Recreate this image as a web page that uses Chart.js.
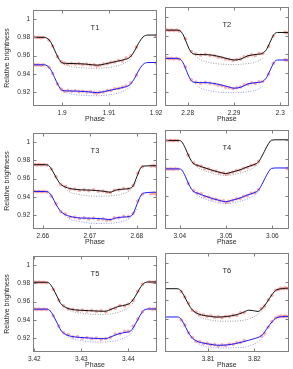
<!DOCTYPE html>
<html>
<head>
<meta charset="utf-8">
<script src="https://cdn.jsdelivr.net/npm/chart.js@4.4.1/dist/chart.umd.min.js"></script>
<style>
body { margin: 0; background: #fff; width: 293px; height: 369px; position: relative; overflow: hidden; }
canvas { position: absolute; }
</style>
</head>
<body>
<canvas id="c1" style="left:0;top:3px" width="170" height="120"></canvas>
<canvas id="c2" style="left:160px;top:3px" width="133" height="120"></canvas>
<canvas id="c3" style="left:0;top:126px" width="170" height="120"></canvas>
<canvas id="c4" style="left:160px;top:126px" width="133" height="120"></canvas>
<canvas id="c5" style="left:0;top:249px" width="170" height="120"></canvas>
<canvas id="c6" style="left:160px;top:249px" width="133" height="120"></canvas>
<script>
// axes
var yTicks = [0.92, 0.94, 0.96, 0.98, 1];
var yRange = [0.905, 1.010];
var panelNames = ['T1', 'T2', 'T3', 'T4', 'T5', 'T6'];
var xRanges = [[1.8938, 1.9202], [2.2751, 2.3018], [2.6579, 2.6843], [3.0368, 3.0635], [3.4197, 3.4461], [3.8007, 3.8274]];
var xTicks = [[1.9, 1.91, 1.92], [2.28, 2.29, 2.3], [2.66, 2.67, 2.68], [3.04, 3.05, 3.06], [3.42, 3.43, 3.44], [3.81, 3.82]];

// T1
var t1Phase = [1.8938,1.8962,1.8968,1.8976,1.8984,1.8992,1.8999,1.9010,1.9030,1.9050,1.9065,1.9075,1.9090,1.9105,1.9118,1.9135,1.9145,1.9155,1.9165,1.9175,1.9185,1.9202];
var t1Top = [0.980,0.980,0.979,0.9745,0.966,0.9575,0.9525,0.9515,0.9513,0.9508,0.950,0.9496,0.9508,0.9525,0.954,0.956,0.9585,0.966,0.9755,0.9815,0.9825,0.9825];
var t1Bot = [0.950,0.950,0.949,0.9445,0.936,0.9275,0.9225,0.9215,0.9213,0.9208,0.920,0.9196,0.9208,0.9225,0.924,0.926,0.9285,0.936,0.9455,0.9515,0.9525,0.9525];
var t1DotPhase = [1.8999,1.9020,1.9050,1.9075,1.9100,1.9125,1.9145];
var t1DotTop = [0.9515,0.948,0.9465,0.9462,0.9472,0.950,0.9555];
var t1DotBot = [0.9215,0.918,0.9165,0.9162,0.9172,0.920,0.9255];
var t1ObsPhase = [1.8940,1.8945,1.8950,1.8955,1.8960,1.8972,1.8980,1.8990,1.8998,1.9005,1.9012,1.9020,1.9028,1.9036,1.9044,1.9052,1.9060,1.9068,1.9074,1.9080,1.9088,1.9096,1.9104,1.9112,1.9120,1.9128,1.9136,1.9146,1.9158,1.9200];
var t1ObsTop = [0.9805,0.9798,0.9802,0.9795,0.9801,0.9770,0.9705,0.9590,0.9535,0.9520,0.9510,0.9517,0.9508,0.9514,0.9503,0.9510,0.9497,0.9502,0.9488,0.9495,0.9510,0.9511,0.9528,0.9530,0.9548,0.9543,0.9575,0.9598,0.9695,0.9818];
var t1ObsBot = [0.9503,0.9497,0.9501,0.9496,0.9500,0.9472,0.9405,0.9290,0.9235,0.9212,0.9218,0.9210,0.9216,0.9207,0.9212,0.9203,0.9209,0.9195,0.9188,0.9202,0.9203,0.9218,0.9220,0.9238,0.9242,0.9255,0.9268,0.9305,0.9385,0.9520];

// T2
var t2Phase = [2.2751,2.2775,2.2783,2.2790,2.2797,2.2804,2.2812,2.2825,2.2845,2.2865,2.2885,2.2900,2.2915,2.2930,2.2950,2.2962,2.2970,2.2978,2.2986,2.2994,2.3018];
var t2Top = [0.9858,0.9858,0.9852,0.981,0.973,0.965,0.9605,0.9598,0.9596,0.958,0.9555,0.954,0.955,0.9585,0.960,0.9612,0.965,0.973,0.981,0.9833,0.9833];
var t2Bot = [0.9557,0.9557,0.9551,0.951,0.943,0.935,0.9305,0.930,0.9298,0.9282,0.9258,0.924,0.925,0.9285,0.930,0.9312,0.935,0.943,0.951,0.954,0.954];
var t2DotPhase = [2.2812,2.2825,2.2845,2.2870,2.2895,2.2920,2.2945,2.2962];
var t2DotTop = [0.9605,0.955,0.9515,0.9497,0.9492,0.9497,0.9515,0.9555];
var t2DotBot = [0.9305,0.925,0.9215,0.9197,0.9192,0.9197,0.9215,0.9255];
var t2ObsPhase = [2.2755,2.2760,2.2765,2.2770,2.2776,2.2782,2.2795,2.2808,2.2818,2.2828,2.2838,2.2848,2.2858,2.2866,2.2874,2.2882,2.2890,2.2898,2.2906,2.2914,2.2922,2.2930,2.2938,2.2946,2.2954,2.2962,2.2975,2.2985,2.3010,2.3015];
var t2ObsTop = [0.9862,0.9855,0.9860,0.9853,0.9859,0.9850,0.9765,0.9630,0.9605,0.9592,0.9600,0.9590,0.9584,0.9570,0.9566,0.9550,0.9548,0.9535,0.9546,0.9550,0.9575,0.9580,0.9596,0.9588,0.9608,0.9610,0.9685,0.9795,0.9836,0.9828];
var t2ObsBot = [0.9560,0.9553,0.9558,0.9551,0.9556,0.9549,0.9465,0.9330,0.9305,0.9293,0.9302,0.9291,0.9284,0.9272,0.9266,0.9251,0.9247,0.9236,0.9244,0.9252,0.9276,0.9281,0.9297,0.9290,0.9308,0.9312,0.9390,0.9505,0.9543,0.9536];

// T3
var t3Phase = [2.6579,2.6605,2.6612,2.6620,2.6628,2.6636,2.6645,2.6660,2.6680,2.6700,2.6715,2.6730,2.6743,2.6755,2.6770,2.6785,2.6792,2.6800,2.6808,2.6815,2.6843];
var t3Top = [0.9753,0.9753,0.9745,0.969,0.9615,0.955,0.9515,0.949,0.9478,0.9475,0.947,0.9462,0.9452,0.9475,0.9485,0.9495,0.952,0.962,0.9715,0.9738,0.9742];
var t3Bot = [0.946,0.946,0.9452,0.940,0.932,0.9255,0.9215,0.9185,0.917,0.9168,0.9165,0.916,0.9152,0.917,0.918,0.9188,0.9215,0.9315,0.941,0.9443,0.9452];
var t3DotPhase = [2.6640,2.6655,2.6680,2.6710,2.6740,2.6770,2.6790,2.6800];
var t3DotTop = [0.953,0.946,0.9425,0.9408,0.9412,0.9435,0.9495,0.958];
var t3DotBot = [0.9235,0.9165,0.913,0.911,0.9112,0.9135,0.919,0.927];
var t3ObsPhase = [2.6582,2.6587,2.6592,2.6597,2.6602,2.6608,2.6618,2.6628,2.6638,2.6648,2.6658,2.6668,2.6678,2.6688,2.6698,2.6708,2.6718,2.6728,2.6736,2.6744,2.6752,2.6762,2.6772,2.6782,2.6792,2.6802,2.6812,2.6830,2.6836,2.6841];
var t3ObsTop = [0.9756,0.9750,0.9755,0.9749,0.9754,0.9748,0.9705,0.9620,0.9535,0.9515,0.9487,0.9488,0.9472,0.9480,0.9468,0.9478,0.9463,0.9466,0.9452,0.9448,0.9474,0.9478,0.9493,0.9488,0.9525,0.9660,0.9730,0.9738,0.9745,0.9733];
var t3ObsBot = [0.9463,0.9457,0.9462,0.9456,0.9461,0.9455,0.9410,0.9325,0.9240,0.9215,0.9182,0.9180,0.9164,0.9172,0.9160,0.9170,0.9155,0.9160,0.9146,0.9150,0.9172,0.9174,0.9190,0.9184,0.9222,0.9355,0.9430,0.9435,0.9442,0.9430];

// T4
var t4Phase = [3.0368,3.0398,3.0404,3.0412,3.0420,3.0428,3.0440,3.0455,3.0470,3.0485,3.0499,3.0512,3.0530,3.0545,3.0560,3.0570,3.0580,3.0590,3.0598,3.0610,3.0635];
var t4Top = [0.9993,0.9993,0.998,0.991,0.982,0.9755,0.9725,0.970,0.9675,0.9655,0.964,0.9655,0.968,0.971,0.9735,0.9765,0.985,0.9945,0.9995,1.0,1.0];
var t4Bot = [0.969,0.969,0.968,0.961,0.952,0.9458,0.9428,0.940,0.9375,0.9355,0.934,0.9355,0.938,0.941,0.9435,0.9465,0.955,0.9645,0.9695,0.970,0.970];
var t4DotPhase = [3.0428,3.0445,3.0470,3.0499,3.0530,3.0555,3.0572];
var t4DotTop = [0.9745,0.969,0.9645,0.962,0.9645,0.969,0.975];
var t4DotBot = [0.9448,0.939,0.9345,0.932,0.9345,0.939,0.945];
var t4ObsPhase = [3.0370,3.0375,3.0380,3.0385,3.0390,3.0396,3.0418,3.0430,3.0438,3.0446,3.0454,3.0462,3.0470,3.0478,3.0486,3.0494,3.0500,3.0506,3.0514,3.0522,3.0530,3.0538,3.0546,3.0554,3.0562,3.0570,3.0632];
var t4ObsTop = [0.9996,0.9990,0.9995,0.9989,0.9994,0.9990,0.9835,0.9755,0.9725,0.9720,0.9695,0.9692,0.9670,0.9668,0.9648,0.9650,0.9632,0.9645,0.9655,0.9672,0.9676,0.9698,0.9705,0.9728,0.9736,0.9770,null];
var t4ObsBot = [0.9693,0.9687,0.9692,0.9686,0.9691,0.9688,0.9535,0.9460,0.9432,0.9425,0.9396,0.9392,0.9370,0.9368,0.9350,0.9352,0.9333,0.9345,0.9355,0.9372,0.9376,0.9400,0.9405,0.9430,0.9436,0.9470,0.9693];

// T5
var t5Phase = [3.4197,3.4225,3.4232,3.4240,3.4248,3.4256,3.4264,3.4275,3.4295,3.4315,3.4335,3.4350,3.4365,3.4380,3.4395,3.4405,3.4415,3.4425,3.4433,3.4442,3.4461];
var t5Top = [0.9812,0.9812,0.980,0.974,0.966,0.958,0.9545,0.952,0.9507,0.9502,0.9497,0.9495,0.952,0.955,0.9565,0.959,0.966,0.975,0.980,0.9815,0.9815];
var t5Bot = [0.9518,0.9518,0.9508,0.945,0.937,0.929,0.925,0.9225,0.921,0.9203,0.9197,0.9195,0.922,0.925,0.9265,0.928,0.9355,0.945,0.9505,0.952,0.952];
var t5DotPhase = [3.4260,3.4275,3.4300,3.4330,3.4360,3.4385,3.4405,3.4415];
var t5DotTop = [0.957,0.9505,0.9475,0.946,0.9465,0.9495,0.9555,0.963];
var t5DotBot = [0.927,0.9205,0.9175,0.9158,0.9162,0.919,0.925,0.933];
var t5ObsPhase = [3.4200,3.4205,3.4210,3.4215,3.4220,3.4226,3.4240,3.4252,3.4262,3.4272,3.4282,3.4292,3.4302,3.4312,3.4322,3.4332,3.4342,3.4352,3.4362,3.4372,3.4382,3.4392,3.4400,3.4410,3.4420,3.4430,3.4445,3.4452,3.4458,3.4460];
var t5ObsTop = [0.9815,0.9809,0.9814,0.9808,0.9813,0.9807,0.9735,0.9615,0.9555,0.9520,0.9518,0.9504,0.9510,0.9497,0.9505,0.9494,0.9502,0.9490,0.9518,0.9528,0.9558,0.9552,0.9575,0.9615,0.9715,0.9790,0.9818,0.9811,0.9817,0.9812];
var t5ObsBot = [0.9521,0.9515,0.9520,0.9514,0.9519,0.9513,0.9445,0.9335,0.9262,0.9240,0.9215,0.9220,0.9200,0.9208,0.9195,0.9203,0.9190,0.9198,0.9212,0.9246,0.9250,0.9275,0.9278,0.9335,0.9410,0.9490,0.9523,0.9516,0.9522,0.9518];

// T6
var t6Phase = [3.8007,3.8033,3.8040,3.8048,3.8056,3.8064,3.8075,3.8090,3.8105,3.8120,3.8140,3.8160,3.8175,3.8188,3.8198,3.8208,3.8218,3.8228,3.8238,3.8248,3.8274];
var t6Top = [0.9724,0.9724,0.971,0.965,0.9575,0.951,0.9465,0.944,0.943,0.9422,0.9428,0.9445,0.947,0.9495,0.949,0.9482,0.952,0.9585,0.966,0.9712,0.973];
var t6Bot = [0.9423,0.9423,0.941,0.935,0.927,0.921,0.9168,0.9145,0.9132,0.9122,0.9125,0.914,0.9158,0.9175,0.919,0.9205,0.9235,0.9305,0.937,0.9415,0.943];
var t6DotPhase = [3.8064,3.8080,3.8100,3.8130,3.8160,3.8190,3.8210,3.8225];
var t6DotTop = [0.951,0.943,0.9395,0.9378,0.938,0.9405,0.946,0.954];
var t6DotBot = [0.921,0.9135,0.9105,0.9093,0.9095,0.9115,0.9165,0.9245];
var t6ObsPhase = [3.8042,3.8050,3.8058,3.8066,3.8074,3.8082,3.8090,3.8098,3.8106,3.8114,3.8122,3.8130,3.8138,3.8146,3.8154,3.8162,3.8170,3.8178,3.8215,3.8222,3.8230,3.8238,3.8246,3.8252,3.8257,3.8262,3.8266,3.8270];
var t6ObsTop = [0.9695,0.9635,0.9570,0.9495,0.9475,0.9448,0.9446,0.9430,0.9437,0.9420,0.9428,0.9416,0.9432,0.9428,0.9443,0.9440,0.9468,0.9470,0.9512,0.9540,0.9605,0.9655,0.9708,0.9715,0.9729,0.9723,0.9733,0.9727];
var t6ObsBot = [0.9390,0.9338,0.9255,0.9205,0.9165,0.9160,0.9140,0.9144,0.9127,0.9130,0.9115,0.9126,0.9118,0.9135,0.9132,0.9150,0.9150,0.9172,0.9220,0.9250,0.9315,0.9375,0.9412,0.9426,0.9434,0.9428,0.9433,0.9427];

var panels = [
  [t1Phase, t1Top, t1Bot, t1DotPhase, t1DotTop, t1DotBot, t1ObsPhase, t1ObsTop, t1ObsBot],
  [t2Phase, t2Top, t2Bot, t2DotPhase, t2DotTop, t2DotBot, t2ObsPhase, t2ObsTop, t2ObsBot],
  [t3Phase, t3Top, t3Bot, t3DotPhase, t3DotTop, t3DotBot, t3ObsPhase, t3ObsTop, t3ObsBot],
  [t4Phase, t4Top, t4Bot, t4DotPhase, t4DotTop, t4DotBot, t4ObsPhase, t4ObsTop, t4ObsBot],
  [t5Phase, t5Top, t5Bot, t5DotPhase, t5DotTop, t5DotBot, t5ObsPhase, t5ObsTop, t5ObsBot],
  [t6Phase, t6Top, t6Bot, t6DotPhase, t6DotTop, t6DotBot, t6ObsPhase, t6ObsTop, t6ObsBot]
];

Chart.defaults.font.family = '"Liberation Sans", Arial, sans-serif';
Chart.defaults.color = '#2a2a2a';

function pts(xs, ys) {
  return xs.map(function (x, i) { return {x: x, y: ys[i]}; });
}

// box, inward ticks on all sides, panel name
var framePlugin = {
  id: 'frame',
  afterDatasetsDraw: function (chart, args, opts) {
    var ctx = chart.ctx, a = chart.chartArea, xs = chart.scales.x, ys = chart.scales.y;
    var l = Math.round(a.left) + 0.5, r = Math.round(a.right) - 0.5;
    var t = Math.round(a.top) + 0.5, b = Math.round(a.bottom) - 0.5;
    ctx.save();
    ctx.strokeStyle = '#808080';
    ctx.lineWidth = 1;
    ctx.strokeRect(l, t, r - l, b - t);
    ctx.beginPath();
    ys.ticks.forEach(function (tk) {
      var py = Math.round(ys.getPixelForValue(tk.value)) + 0.5;
      ctx.moveTo(l, py); ctx.lineTo(l + 3, py);
      ctx.moveTo(r, py); ctx.lineTo(r - 3, py);
    });
    xs.ticks.forEach(function (tk) {
      var px = Math.round(xs.getPixelForValue(tk.value)) + 0.5;
      ctx.moveTo(px, b); ctx.lineTo(px, b - 3);
      ctx.moveTo(px, t); ctx.lineTo(px, t + 3);
    });
    ctx.stroke();
    ctx.fillStyle = '#2a2a2a';
    ctx.font = '7.5px "Liberation Sans", Arial, sans-serif';
    ctx.textAlign = 'center';
    ctx.textBaseline = 'middle';
    ctx.fillText(opts.label, (a.left + a.right) / 2, a.top + 18);
    ctx.restore();
  }
};

function makePanel(n) {
  var d = panels[n];
  var left = n % 2 === 0;
  var obsStyle = {
    showLine: false, pointRadius: 1.5, borderWidth: 0.4,
    backgroundColor: 'rgba(245,105,105,0.5)', borderColor: 'rgba(235,70,70,0.45)', order: 2
  };
  var lineStyle = {
    showLine: true, pointRadius: 0, borderWidth: 1, cubicInterpolationMode: 'monotone'
  };
  new Chart(document.getElementById('c' + (n + 1)), {
    type: 'scatter',
    data: {
      datasets: [
        Object.assign({data: pts(d[3], d[4]), borderColor: '#a0a0a0', borderDash: [1, 1.5], order: 3}, lineStyle),
        Object.assign({data: pts(d[3], d[5]), borderColor: '#9a9aff', borderDash: [1, 1.5], order: 3}, lineStyle),
        Object.assign({data: pts(d[6], d[7])}, obsStyle),
        Object.assign({data: pts(d[6], d[8])}, obsStyle),
        Object.assign({data: pts(d[0], d[1]), borderColor: '#111', order: 1}, lineStyle),
        Object.assign({data: pts(d[0], d[2]), borderColor: '#1a1aff', order: 1}, lineStyle)
      ]
    },
    options: {
      responsive: false,
      animation: false,
      devicePixelRatio: 1,
      layout: {padding: {top: 4, right: left ? 13 : 3, left: 0, bottom: 0}},
      plugins: {legend: {display: false}, tooltip: {enabled: false}, frame: {label: panelNames[n]}},
      scales: {
        x: {
          type: 'linear', min: xRanges[n][0], max: xRanges[n][1],
          afterBuildTicks: function (s) { s.ticks = xTicks[n].map(function (v) { return {value: v}; }); },
          afterFit: function (s) { s.height = 17; },
          grid: {display: false, drawTicks: false}, border: {display: false},
          ticks: {
            font: {size: 6.5}, padding: 3, maxRotation: 0, autoSkip: false,
            callback: function (v) { return String(Number(v.toFixed(3))); }
          },
          title: {display: true, text: 'Phase', font: {size: 7}, padding: 0}
        },
        y: {
          min: yRange[0], max: yRange[1],
          afterBuildTicks: function (s) { s.ticks = yTicks.map(function (v) { return {value: v}; }); },
          afterFit: function (s) { s.width = left ? 33 : 5; },
          grid: {display: false, drawTicks: false}, border: {display: false},
          ticks: {
            display: left, font: {size: 6.5}, padding: 3,
            callback: function (v) { return String(Number(v.toFixed(3))); }
          },
          title: {display: left, text: 'Relative brightness', font: {size: 7}, padding: {top: 3, bottom: 0}}
        }
      }
    },
    plugins: [framePlugin]
  });
}

for (var i = 0; i < 6; i++) makePanel(i);
</script>
</body>
</html>
